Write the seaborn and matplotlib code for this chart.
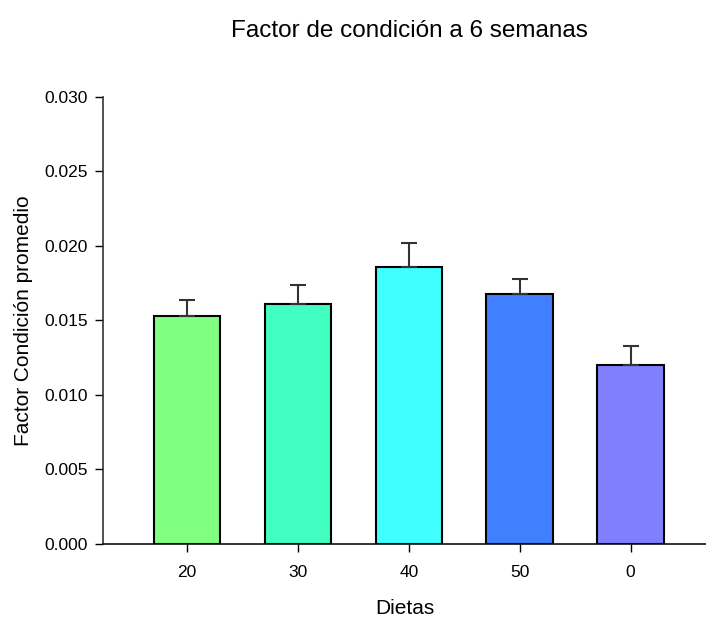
import matplotlib
matplotlib.use("Agg")
import matplotlib.pyplot as plt
import seaborn as sns
import pandas as pd

# Mean condition factor per diet and its standard error
dietas = ["20", "30", "40", "50", "0"]
medias = [0.0153, 0.0161, 0.0186, 0.0168, 0.0120]
errores = [0.0011, 0.0013, 0.0016, 0.0010, 0.0013]
colores = ["#80FF80", "#40FFC0", "#40FFFF", "#4080FF", "#8080FF"]

sns.set_style("ticks")
plt.rcParams["font.family"] = ["Liberation Sans", "DejaVu Sans"]
plt.rcParams["text.color"] = "black"
plt.rcParams["axes.labelcolor"] = "black"

df = pd.DataFrame({"Dietas": dietas, "Factor": medias})

fig = plt.figure(figsize=(7.06, 6.20), dpi=100)
ax = fig.add_axes([0.1459, 0.1226, 0.8541, 0.7210])

sns.barplot(data=df, x="Dietas", y="Factor", hue="Dietas", palette=colores,
            order=dietas, hue_order=dietas, legend=False, errorbar=None,
            width=0.6, edgecolor="black", linewidth=1.5, saturation=1, ax=ax)

ax.errorbar(range(len(dietas)), medias, yerr=[[0] * len(errores), errores],
            fmt="none", ecolor="#333333", elinewidth=1.5, capsize=6,
            capthick=1.5, zorder=1)

ax.set_xlim(-0.757, 4.68)
ax.set_ylim(0, 0.030)
ax.set_yticks([0.000, 0.005, 0.010, 0.015, 0.020, 0.025, 0.030])
ax.set_yticklabels([f"{v:.3f}" for v in ax.get_yticks()])

for s in ["top", "right"]:
    ax.spines[s].set_visible(False)
ax.spines["left"].set_color("#333333")
ax.spines["bottom"].set_color("#111111")
ax.spines["left"].set_linewidth(1.2)
ax.spines["bottom"].set_linewidth(1.2)
ax.tick_params(axis="both", direction="out", length=6, width=1, labelsize=12.5,
               colors="black", labelcolor="black", pad=5)
ax.tick_params(axis="x", pad=9)

ax.set_xlabel("Dietas", fontsize=15, labelpad=14)
ax.set_ylabel("Factor Condición promedio", fontsize=15, labelpad=8)
fig.suptitle("Factor de condición a 6 semanas", fontsize=17.5, x=0.58, y=0.968)

fig.savefig("out.png", dpi=100)
